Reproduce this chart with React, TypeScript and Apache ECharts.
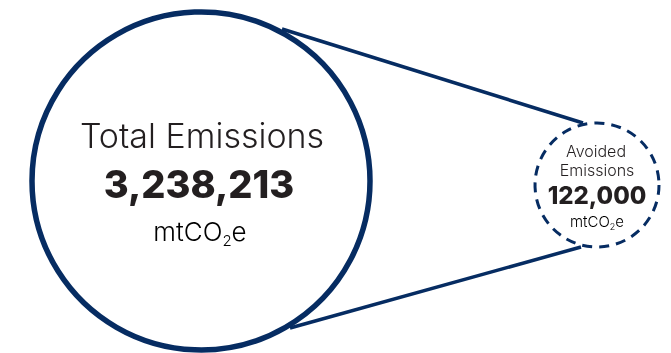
import React, { useEffect, useRef } from "react";
import * as echarts from "echarts";

const labels = ["Total Emissions", "Avoided Emissions"];
const values = [3238213, 122000];
const unitMain = "mtCO";
const unitSub = "2";
const unitTail = "e";

const NAVY = "#062c62";
const TEXT = "#231f20";
const FONT = "Inter, 'Open Sans', sans-serif";

const fmt = (v: number) => v.toLocaleString("en-US");

export default function App() {
  const ref = useRef<HTMLDivElement>(null);
  useEffect(() => {
    if (!ref.current) return;
    const chart = echarts.init(ref.current, null, { renderer: "svg" });
    const big = { cx: 201, cy: 181, r: 169 };
    const small = { cx: 597, cy: 185, r: 62 };
    const unitRich = (a: number, b: number, lh: number) => ({
      a: { fontSize: a, fontFamily: FONT, fontWeight: 300, color: TEXT, lineHeight: lh },
      b: { fontSize: b, fontFamily: FONT, fontWeight: 300, color: TEXT, lineHeight: b + 2, verticalAlign: "bottom" },
    });
    const smallWords = labels[1].split(" ");
    chart.setOption({
      animation: false,
      graphic: [
        {
          type: "line",
          shape: { x1: 282, y1: 29, x2: 583, y2: 123 },
          style: { stroke: NAVY, lineWidth: 3.5 },
        },
        {
          type: "line",
          shape: { x1: 290, y1: 328, x2: 581, y2: 247 },
          style: { stroke: NAVY, lineWidth: 3.5 },
        },
        {
          type: "circle",
          shape: { cx: big.cx, cy: big.cy, r: big.r },
          style: { fill: "#fff", stroke: NAVY, lineWidth: 5.5 },
        },
        {
          type: "circle",
          shape: { cx: small.cx, cy: small.cy, r: small.r },
          style: { fill: "#fff", stroke: NAVY, lineWidth: 3, lineDash: [10, 7] },
        },
        {
          type: "text",
          x: 202,
          y: 135,
          style: {
            text: labels[0],
            font: `300 34px ${FONT}`,
            fill: TEXT,
            align: "center",
            verticalAlign: "middle",
          },
        },
        {
          type: "text",
          x: 199,
          y: 184,
          style: {
            text: fmt(values[0]),
            font: `800 38px ${FONT}`,
            fill: TEXT,
            align: "center",
            verticalAlign: "middle",
          },
        },
        {
          type: "text",
          x: 200,
          y: 231,
          style: {
            text: `{a|${unitMain}}{b|${unitSub}}{a|${unitTail}}`,
            rich: unitRich(26, 15, 34),
            align: "center",
            verticalAlign: "middle",
          },
        },
        {
          type: "text",
          x: 596,
          y: 151,
          style: {
            text: smallWords[0],
            font: `300 16px ${FONT}`,
            fill: TEXT,
            align: "center",
            verticalAlign: "middle",
          },
        },
        {
          type: "text",
          x: 597,
          y: 170,
          style: {
            text: smallWords.slice(1).join(" "),
            font: `300 16px ${FONT}`,
            fill: TEXT,
            align: "center",
            verticalAlign: "middle",
          },
        },
        {
          type: "text",
          x: 597,
          y: 195,
          style: {
            text: fmt(values[1]),
            font: `800 24px ${FONT}`,
            fill: TEXT,
            align: "center",
            verticalAlign: "middle",
          },
        },
        {
          type: "text",
          x: 597,
          y: 221,
          style: {
            text: `{a|${unitMain}}{b|${unitSub}}{a|${unitTail}}`,
            rich: unitRich(15, 9, 20),
            align: "center",
            verticalAlign: "middle",
          },
        },
      ],
    });
    return () => chart.dispose();
  }, []);
  return (
    <div
      ref={ref}
      style={{ position: "fixed", left: 0, top: 0, width: 671, height: 353 }}
    />
  );
}
